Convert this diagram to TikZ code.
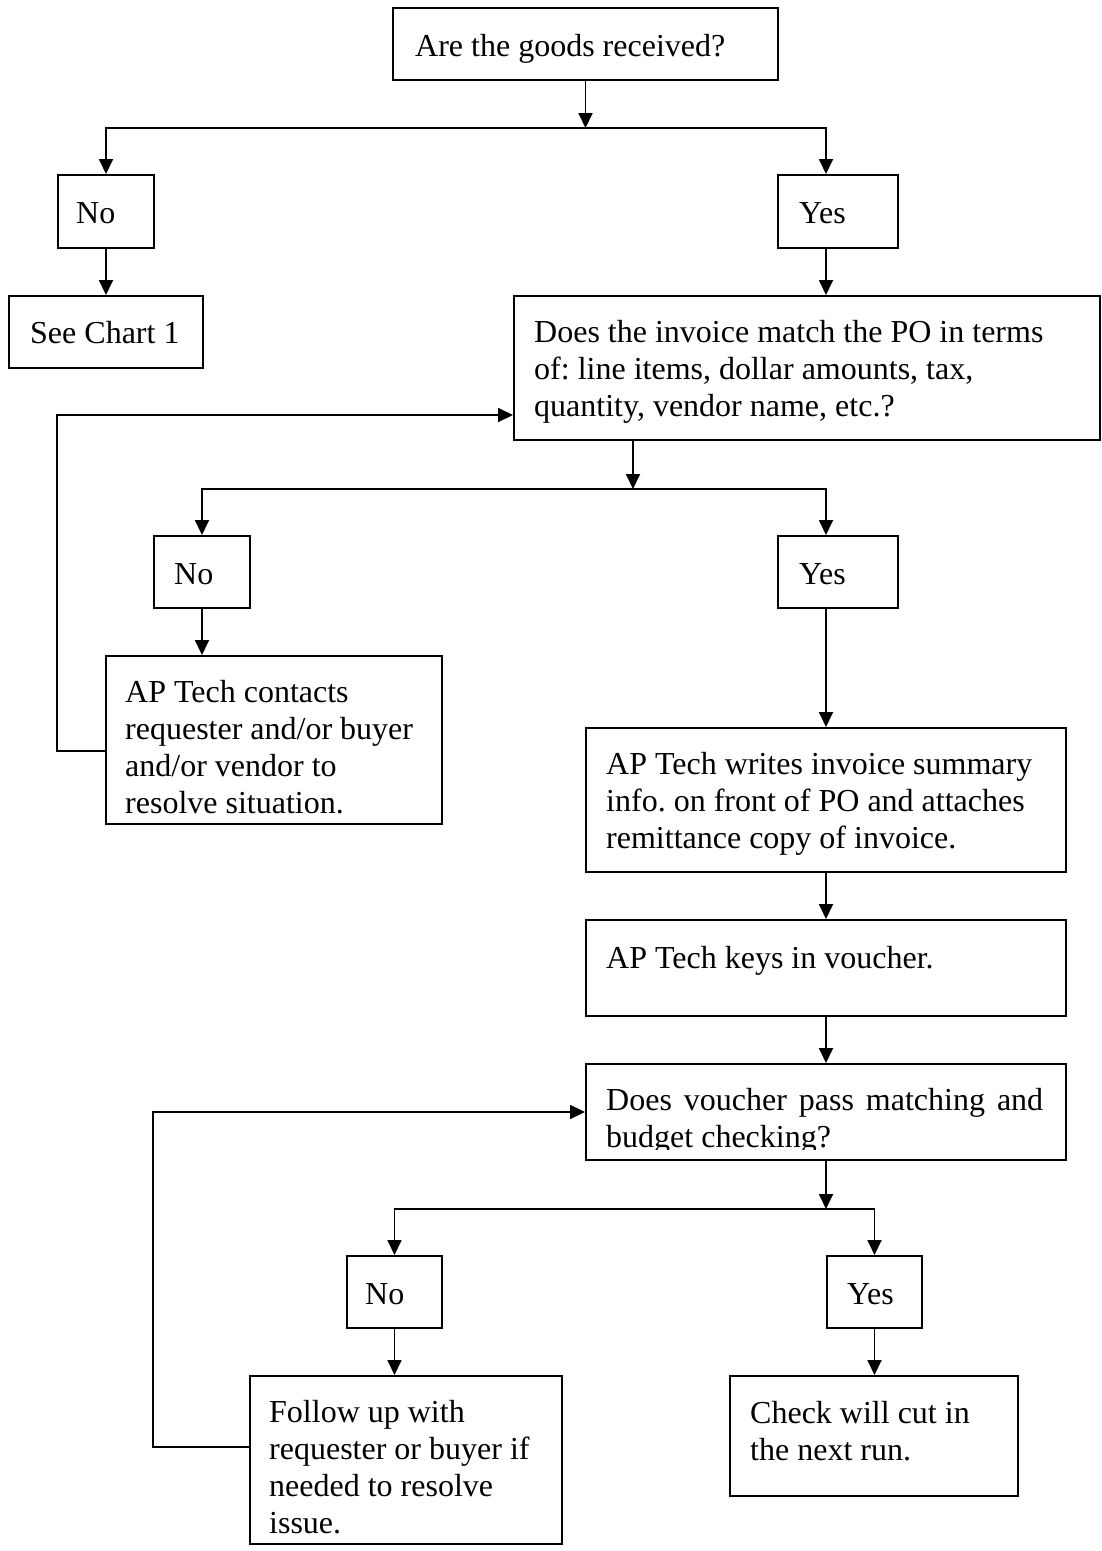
\documentclass[tikz,border=0pt]{standalone}
\usepackage{fontspec}
\setmainfont{Liberation Serif}
\usetikzlibrary{arrows.meta,calc}
\frenchspacing
\begin{document}
\begin{tikzpicture}[x=1pt,y=-1pt,
  box/.style={draw,line width=2pt,inner sep=0pt,anchor=north west},
  txt/.style={inner sep=0pt,anchor=base west,align=left,font=\fontsize{32}{36.8}\selectfont\frenchspacing},
  arr/.style={line width=1.8pt,-{Triangle[length=15pt,width=14pt]}}]
\useasboundingbox (0,0) rectangle (1101,1551);
% boxes
\node[box,minimum width=385pt,minimum height=72pt] (q1) at (392,7) {};
\node[box,minimum width=96pt,minimum height=73pt] (n1) at (57,174) {};
\node[box,minimum width=120pt,minimum height=73pt] (y1) at (777,174) {};
\node[box,minimum width=194pt,minimum height=72pt] (see) at (8,295) {};
\node[box,minimum width=586pt,minimum height=144pt] (inv) at (513,295) {};
\node[box,minimum width=96pt,minimum height=72pt] (n2) at (153,535) {};
\node[box,minimum width=120pt,minimum height=72pt] (y2) at (777,535) {};
\node[box,minimum width=336pt,minimum height=168pt] (ap1) at (105,655) {};
\node[box,minimum width=480pt,minimum height=144pt] (ap2) at (585,727) {};
\node[box,minimum width=480pt,minimum height=96pt] (keys) at (585,919) {};
\node[box,minimum width=480pt,minimum height=96pt] (vou) at (585,1063) {};
\node[box,minimum width=95pt,minimum height=72pt] (n3) at (346,1255) {};
\node[box,minimum width=95pt,minimum height=72pt] (y3) at (826,1255) {};
\node[box,minimum width=312pt,minimum height=168pt] (fol) at (249,1375) {};
\node[box,minimum width=288pt,minimum height=120pt] (chk) at (729,1375) {};
% texts (multi-line nodes: base = last line)
\node[txt] (tq1) at (415,56) {Are the goods received?};
\node[txt] (tn1) at (76,223) {No};
\node[txt] (ty1) at (799,223) {Yes};
\node[txt] (tsee) at (30,343) {See Chart 1};
\node[txt] (tinv) at (534,416) {Does the invoice match the PO in terms\\of: line items, dollar amounts, tax,\\quantity, vendor name, etc.?};
\node[txt] (tn2) at (174,584) {No};
\node[txt] (ty2) at (799,584) {Yes};
\node[txt] (tap1) at (125,813) {AP Tech contacts\\requester and/or buyer\\and/or vendor to\\resolve situation.};
\node[txt] (tap2) at (606,848) {AP Tech writes invoice summary\\info. on front of PO and attaches\\remittance copy of invoice.};
\node[txt] (tkeys) at (606,968) {AP Tech keys in voucher.};
\begin{scope}
\clip (585,1063) rectangle (1065,1149);
\node[txt] (tvou) at (606,1147) {\makebox[437pt][s]{Does voucher pass matching and}\\budget checking?};
\end{scope}
\node[txt] (tn3) at (365,1304) {No};
\node[txt] (ty3) at (847,1304) {Yes};
\node[txt] (tfol) at (269,1533) {Follow up with\\requester or buyer if\\needed to resolve\\issue.};
\node[txt] (tchk) at (750,1460) {Check will cut in\\the next run.};
% connectors level 1
\coordinate (j1) at ($(q1.south)+(0,47)$);
\coordinate (c1) at ($(y1.north west)+(49,0)$);
\coordinate (c1b) at ($(y1.south west)+(49,0)$);
\draw[arr] (q1.south) -- (j1);
\draw[arr] (j1) -| (n1.north);
\draw[arr] (j1) -| (c1);
\draw[arr] (n1.south) -- (see.north);
\draw[arr] (c1b) -- (c1b |- inv.north);
% level 2
\coordinate (s2) at ($(inv.south west)+(120,0)$);
\coordinate (j2) at ($(s2)+(0,48)$);
\coordinate (c2) at ($(y2.north west)+(49,0)$);
\coordinate (c2b) at ($(y2.south west)+(49,0)$);
\draw[arr] (s2) -- (j2);
\draw[arr] (j2) -| (n2.north);
\draw[arr] (j2) -| (c2);
\draw[arr] (n2.south) -- (n2.south |- ap1.north);
\draw[arr] (c2b) -- (c2b |- ap2.north);
\coordinate (f1s) at ($(ap1.north west)+(0,96)$);
\coordinate (f1e) at ($(inv.north west)+(0,120)$);
\draw[arr] (f1s) -- ++(-48,0) |- (f1e);
% level 3
\draw[arr] (ap2.south) -- (keys.north);
\draw[arr] (keys.south) -- (vou.north);
\coordinate (j3) at ($(vou.south)+(0,48)$);
\draw[arr] (vou.south) -- (j3);
\draw[arr] (j3) -| (n3.north);
\draw[arr] (j3) -| (y3.north);
\draw[arr] (n3.south) -- (n3.south |- fol.north);
\draw[arr] (y3.south) -- (y3.south |- chk.north);
\coordinate (f2s) at ($(fol.north west)+(0,72)$);
\draw[arr] (f2s) -- ++(-96,0) |- (vou.west);
\end{tikzpicture}
\end{document}
